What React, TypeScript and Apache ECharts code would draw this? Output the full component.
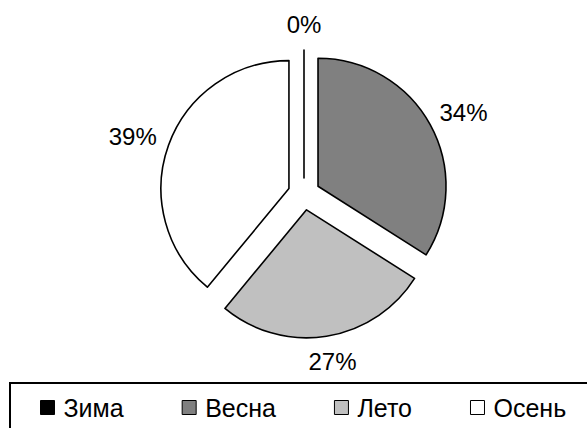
import React, { useEffect, useRef } from "react";
import * as echarts from "echarts";

const categories = ["Зима", "Весна", "Лето", "Осень"];
const values = [0, 34, 27, 39];
const colors = ["#000000", "#808080", "#c0c0c0", "#ffffff"];

const CX = 304;
const CY = 194;
const R = 128;
const OFFSET = 16;
const LABEL_GAP = 14;
const LABEL_FONT = 24;
const FONT = "'Liberation Sans', Arial, sans-serif";

export default function App() {
  const ref = useRef<HTMLDivElement>(null);
  useEffect(() => {
    const chart = echarts.init(ref.current!, null, { renderer: "svg" });
    const total = values.reduce((a, b) => a + b, 0);
    let acc = 0;
    const labelTexts = values.map((v) => {
      const mid = ((acc + v / 2) / total) * Math.PI * 2;
      acc += v;
      const sx = Math.sin(mid);
      const sy = -Math.cos(mid);
      const text = Math.round((v / total) * 100) + "%";
      const w = LABEL_FONT * (0.556 * (text.length - 1) + 0.889);
      const h = LABEL_FONT;
      const d = OFFSET + R + LABEL_GAP;
      return {
        type: "text",
        x: CX + sx * d + (sx * w) / 2,
        y: CY + sy * d + (sy * h) / 2,
        silent: true,
        style: {
          text,
          fill: "#000",
          font: `${LABEL_FONT}px ${FONT}`,
          align: "center",
          verticalAlign: "middle",
          textAlign: "center",
          textVerticalAlign: "middle",
        },
      };
    });

    chart.setOption({
      animation: false,
      backgroundColor: "#ffffff",
      legend: {
        data: categories,
        left: 40,
        top: 395,
        padding: 0,
        orient: "horizontal",
        icon: "rect",
        itemWidth: 14,
        itemHeight: 14,
        itemGap: 58,
        selectedMode: false,
        itemStyle: { borderColor: "#000", borderWidth: 1 },
        textStyle: {
          fontSize: 25,
          fontFamily: FONT,
          color: "#000",
          lineHeight: 25,
          padding: [0, 0, 0, 4],
        },
      },
      graphic: [
        {
          type: "rect",
          silent: true,
          shape: { x: 10, y: 383, width: 640, height: 100 },
          style: { fill: "none", stroke: "#000", lineWidth: 2 },
        },
        ...labelTexts,
      ],
      series: [
        {
          type: "pie",
          center: [CX, CY],
          radius: R,
          startAngle: 90,
          clockwise: true,
          selectedMode: "multiple",
          selectedOffset: OFFSET,
          avoidLabelOverlap: false,
          label: { show: false },
          labelLine: { show: false },
          emphasis: { disabled: true },
          data: categories.map((name, i) => ({
            name,
            value: values[i],
            selected: true,
            itemStyle: { color: colors[i], borderColor: "#000", borderWidth: 1.6 },
            select: {
              itemStyle: { color: colors[i], borderColor: "#000", borderWidth: 1.6 },
            },
          })),
        },
      ],
    });
    return () => chart.dispose();
  }, []);
  return (
    <div
      ref={ref}
      style={{ position: "fixed", left: 0, top: 0, width: 587, height: 428 }}
    />
  );
}
